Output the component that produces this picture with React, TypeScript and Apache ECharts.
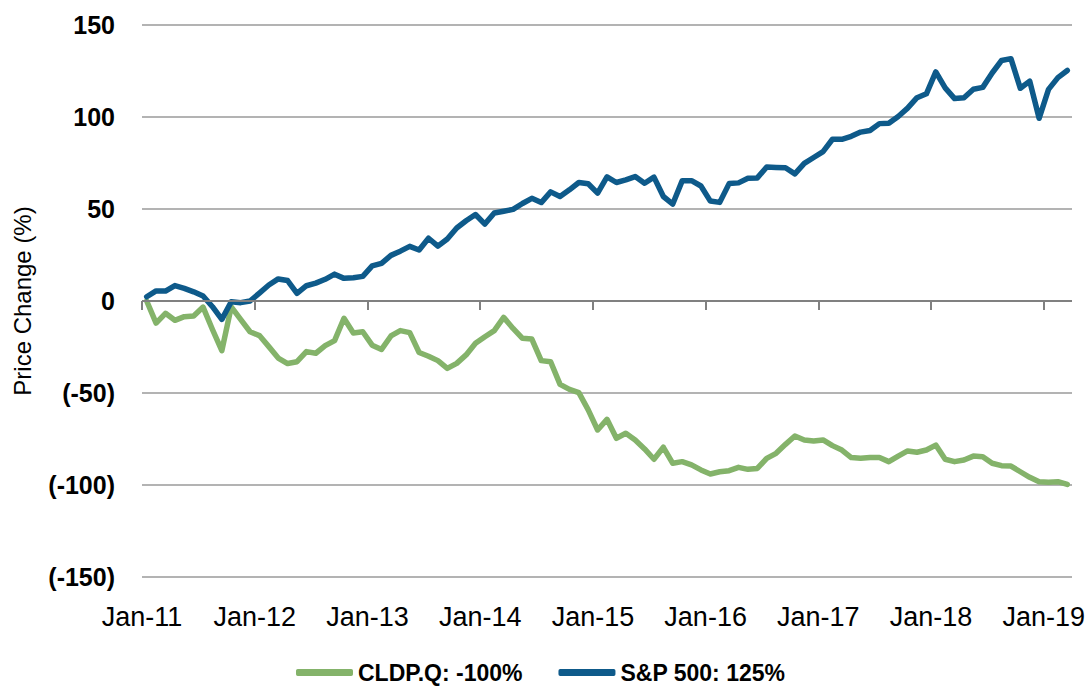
import React, { useEffect, useRef } from "react";
import * as echarts from "echarts";

// ---- categories ----
const MONTH_NAMES = ["Jan", "Feb", "Mar", "Apr", "May", "Jun", "Jul", "Aug", "Sep", "Oct", "Nov", "Dec"];
const YEARS = ["11", "12", "13", "14", "15", "16", "17", "18", "19"];
const LAST_YEAR_MONTHS = 3; // data runs to Mar-19

// monthly categories Jan-11 .. Mar-19 (one per data point)
const months: string[] = [];
YEARS.forEach((y, yi) => {
  const n = yi === YEARS.length - 1 ? LAST_YEAR_MONTHS : 12;
  for (let m = 0; m < n; m++) months.push(`${MONTH_NAMES[m]}-${y}`);
});
// boundaries between monthly bands (one more than months): Jan-11 .. Apr-19
const boundaries: string[] = [...months, `${MONTH_NAMES[LAST_YEAR_MONTHS]}-${YEARS[YEARS.length - 1]}`];
// year tick labels
const yearTicks: string[] = YEARS.map((y) => `Jan-${y}`);

// ---- series values (price change, %) ----
const seriesNames = ["CLDP.Q: -100%", "S&P 500: 125%"];

const cldp: number[] = [
  0, -12, -6.7, -10.5, -8.5, -8.2, -3.3, -15.5, -27, -3.2, -10, -16.7,
  -18.8, -24.8, -31, -34, -33, -27.5, -28.4, -24.3, -21.5, -9.4, -17.4, -16.7,
  -24, -26.3, -19, -16.1, -17.2, -28, -30, -32.4, -36.6, -33.9, -29.3, -23,
  -19.4, -16.1, -8.9, -14.9, -20.3, -20.7, -32.4, -33, -45.3, -48, -49.8, -59.2,
  -70.1, -64.3, -74.6, -71.9, -75.5, -80.4, -86, -79.5, -88.2, -87.3, -89.1, -91.8,
  -94, -92.8, -92.2, -90.4, -91.5, -91, -85.5, -82.8, -77.9, -73.4, -75.5, -76.1,
  -75.5, -78.6, -81, -85.1, -85.5, -85, -85, -87.3, -84.3, -81.5, -82.2, -81,
  -78.3, -86, -87.3, -86.4, -84.3, -84.6, -88.2, -89.5, -89.7, -92.8, -95.8, -98.2,
  -98.5, -98.2, -99.7,
];

const sp500: number[] = [
  2.3, 5.5, 5.4, 8.4, 6.9, 5.0, 2.7, -3.1, -10.0, -0.4, -0.9, 0.0,
  4.3, 8.7, 12.0, 11.1, 4.2, 8.3, 9.7, 11.8, 14.6, 12.3, 12.6, 13.4,
  19.1, 20.5, 24.8, 27.1, 29.7, 27.7, 34.1, 29.8, 33.7, 39.7, 43.6, 47.0,
  41.8, 47.8, 48.8, 49.8, 53.0, 55.8, 53.5, 59.3, 56.8, 60.4, 64.4, 63.7,
  58.6, 67.4, 64.4, 65.8, 67.6, 64.0, 67.3, 56.8, 52.7, 65.3, 65.4, 62.5,
  54.3, 53.6, 63.8, 64.2, 66.7, 66.9, 72.8, 72.6, 72.4, 69.1, 74.8, 78.0,
  81.2, 87.9, 87.9, 89.5, 91.8, 92.7, 96.4, 96.6, 100.3, 104.8, 110.5, 112.6,
  124.5, 115.8, 110.0, 110.5, 115.1, 116.1, 123.9, 130.7, 131.7, 115.6, 119.5, 99.3,
  115.0, 121.4, 125.3,
];

// ---- y axis ----
const Y_MIN = -150;
const Y_MAX = 150;
const Y_STEP = 50;

const COLORS = ["#84B36A", "#0E5A8A"];
const AXIS_COLOR = "#808080";
const FONT = "'Liberation Sans', Arial, sans-serif";

const GRID_TOP = 25;
const GRID_BOTTOM = 110;
const CHART_H = 687;
const GRID_H = CHART_H - GRID_TOP - GRID_BOTTOM;
const TICK_PX = 9;
const TICK_UNITS = (TICK_PX * (Y_MAX - Y_MIN)) / GRID_H;

const isYearStart = (index: number) => index % 12 === 0;

const NO_TICK = { show: false, length: 0, lineStyle: { width: 0, opacity: 0 } };

export default function App() {
  const ref = useRef<HTMLDivElement>(null);

  useEffect(() => {
    if (!ref.current) return;
    const chart = echarts.init(ref.current, undefined, { renderer: "svg" });

    // zero line + yearly tick marks drawn on the boundary axis
    const zeroAxisMarks: any[] = [
      { yAxis: 0 },
      ...yearTicks.map((t) => [{ coord: [t, 0] }, { coord: [t, -TICK_UNITS] }]),
    ];

    const option: any = {
      animation: false,
      backgroundColor: "#ffffff",
      textStyle: { fontFamily: FONT },
      grid: { left: 142, right: 20, top: GRID_TOP, bottom: GRID_BOTTOM, containLabel: false },
      legend: {
        left: 291,
        top: 656,
        icon: "roundRect",
        itemWidth: 57,
        itemHeight: 7,
        itemGap: 36,
        data: seriesNames,
        textStyle: { fontFamily: FONT, fontSize: 23, fontWeight: "bold", color: "#000" },
      },
      xAxis: [
        // 0: boundaries between months (year labels at the bottom)
        {
          type: "category",
          data: boundaries,
          boundaryGap: false,
          position: "bottom",
          axisLine: { show: false, onZero: false, lineStyle: { opacity: 0 } },
          axisTick: NO_TICK,
          minorTick: { show: false },
          splitLine: { show: false },
          axisLabel: {
            interval: isYearStart,
            margin: 26,
            fontFamily: FONT,
            fontSize: 27,
            color: "#000",
          },
        },
        // 1: monthly bands carrying the series
        {
          type: "category",
          data: months,
          boundaryGap: true,
          position: "bottom",
          axisLine: { show: false, onZero: false, lineStyle: { opacity: 0 } },
          axisTick: NO_TICK,
          axisLabel: { show: false },
          splitLine: { show: false },
        },
      ],
      yAxis: {
        type: "value",
        min: Y_MIN,
        max: Y_MAX,
        interval: Y_STEP,
        name: "Price Change (%)",
        nameLocation: "middle",
        nameRotate: 90,
        nameGap: 108,
        nameTextStyle: { fontFamily: FONT, fontSize: 24, color: "#000" },
        axisLine: { show: false },
        axisTick: { show: false },
        axisLabel: {
          margin: 27,
          fontFamily: FONT,
          fontSize: 25,
          fontWeight: "bold",
          color: "#000",
          formatter: (v: number) => (v < 0 ? `(${v})` : `${v}`),
        },
        splitLine: { show: true, lineStyle: { color: "#b3b3b3", width: 2 } },
      },
      series: [
        {
          name: "zero-axis",
          type: "line",
          xAxisIndex: 0,
          data: boundaries.map(() => null),
          symbol: "none",
          silent: true,
          z: 1,
          markLine: {
            silent: true,
            symbol: ["none", "none"],
            label: { show: false },
            lineStyle: { color: AXIS_COLOR, width: 2, type: "solid" },
            emphasis: { disabled: true },
            data: zeroAxisMarks,
          },
        },
        {
          name: seriesNames[0],
          type: "line",
          xAxisIndex: 1,
          data: cldp,
          symbol: "none",
          color: COLORS[0],
          z: 3,
          lineStyle: { width: 5.5, color: COLORS[0], join: "round", cap: "round" },
        },
        {
          name: seriesNames[1],
          type: "line",
          xAxisIndex: 1,
          data: sp500,
          symbol: "none",
          color: COLORS[1],
          z: 3,
          lineStyle: { width: 5.5, color: COLORS[1], join: "round", cap: "round" },
        },
      ],
    };
    chart.setOption(option);
    return () => chart.dispose();
  }, []);

  return (
    <div
      ref={ref}
      style={{ position: "absolute", left: 0, top: 0, width: 1092, height: CHART_H, background: "#fff" }}
    />
  );
}
